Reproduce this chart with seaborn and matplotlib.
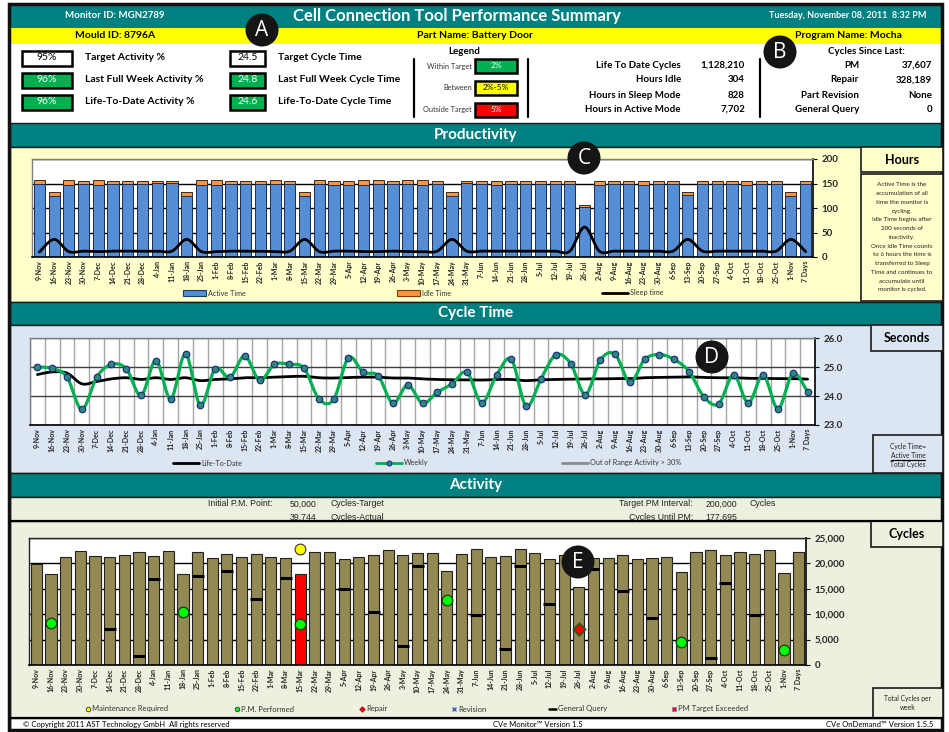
import numpy as np
import matplotlib
matplotlib.use("Agg")
import matplotlib.pyplot as plt
from matplotlib.patches import Rectangle, Circle
import seaborn as sns

# --- data ---
weeks = ["9-Nov", "16-Nov", "23-Nov", "30-Nov", "7-Dec", "14-Dec", "21-Dec", "28-Dec",
         "4-Jan", "11-Jan", "18-Jan", "25-Jan", "1-Feb", "8-Feb", "15-Feb", "22-Feb",
         "1-Mar", "8-Mar", "15-Mar", "22-Mar", "29-Mar", "5-Apr", "12-Apr", "19-Apr",
         "26-Apr", "3-May", "10-May", "17-May", "24-May", "31-May", "7-Jun", "14-Jun",
         "21-Jun", "28-Jun", "5-Jul", "12-Jul", "19-Jul", "26-Jul", "2-Aug", "9-Aug",
         "16-Aug", "23-Aug", "30-Aug", "6-Sep", "13-Sep", "20-Sep", "27-Sep", "4-Oct",
         "11-Oct", "18-Oct", "25-Oct", "1-Nov", "7 Days"]

active_hours = [149, 125, 147, 148, 147, 148, 150, 148, 151, 151, 125, 147, 147, 150,
                150, 150, 149, 148, 125, 149, 147, 146, 147, 149, 150, 148, 147, 148,
                125, 151, 150, 147, 150, 150, 150, 148, 150, 102, 147, 149, 148, 147,
                149, 149, 126, 148, 150, 149, 147, 150, 148, 125, 149]
idle_hours = [8, 7, 10, 8, 10, 8, 6, 8, 5, 5, 7, 10, 10, 6, 6, 6, 8, 8, 7, 8, 9, 10,
              10, 8, 6, 9, 10, 8, 7, 5, 6, 9, 6, 6, 6, 8, 6, 5, 9, 7, 8, 9, 7, 7, 6,
              8, 6, 7, 9, 6, 8, 7, 7]
sleep_hours = [10, 36, 11, 12, 11, 12, 12, 12, 12, 12, 36, 11, 11, 12, 12, 12, 11, 12,
               36, 11, 12, 12, 11, 11, 12, 11, 11, 12, 36, 12, 12, 12, 12, 12, 12, 12,
               12, 61, 12, 12, 12, 12, 12, 12, 36, 12, 12, 12, 12, 12, 12, 36, 11]

weekly_cycle_time = [25.00, 24.95, 24.65, 23.54, 24.65, 25.09, 24.94, 24.02, 25.22, 23.90,
                     25.45, 23.68, 24.94, 24.64, 25.38, 24.54, 25.09, 25.09, 24.96, 23.90,
                     23.88, 25.32, 24.82, 24.70, 23.75, 24.38, 23.75, 24.13, 24.42, 24.82,
                     23.76, 24.72, 25.26, 23.65, 24.59, 25.42, 25.12, 24.05, 25.24, 25.44,
                     24.47, 25.26, 25.43, 25.26, 24.84, 23.97, 23.73, 24.73, 23.76, 24.73,
                     23.56, 24.78, 24.14]
ltd_cycle_time = [24.74, 24.83, 24.79, 24.42, 24.50, 24.59, 24.63, 24.57, 24.63, 24.57,
                  24.63, 24.53, 24.57, 24.59, 24.63, 24.63, 24.65, 24.67, 24.68, 24.63,
                  24.62, 24.64, 24.65, 24.65, 24.62, 24.62, 24.59, 24.57, 24.56, 24.56,
                  24.55, 24.57, 24.57, 24.53, 24.56, 24.57, 24.58, 24.59, 24.59, 24.60,
                  24.60, 24.63, 24.64, 24.65, 24.66, 24.64, 24.63, 24.63, 24.61, 24.61,
                  24.60, 24.60, 24.58]

weekly_cycles = [19900, 17900, 21250, 22500, 21450, 21200, 21650, 22200, 21450, 22500,
                 17850, 22250, 21050, 21850, 21250, 21850, 21250, 21150, 17900, 22200,
                 22200, 20800, 21250, 21650, 22550, 21650, 22100, 22000, 18500, 21850,
                 22800, 21350, 21400, 22800, 22050, 20950, 21600, 15300, 21000, 21050,
                 21650, 20850, 21050, 21350, 18300, 22250, 22650, 21650, 22200, 21800,
                 22550, 18100, 22250]

pm_exceeded_weeks = ["15-Mar"]
maint_weeks = ["15-Mar"]
maint_values = [22800]
pm_weeks = ["16-Nov", "18-Jan", "15-Mar", "24-May", "13-Sep", "1-Nov"]
pm_values = [8300, 10400, 8000, 12700, 4500, 3000]
repair_weeks = ["26-Jul"]
repair_values = [7000]
query_weeks = ["14-Dec", "28-Dec", "4-Jan", "25-Jan", "8-Feb", "22-Feb", "8-Mar", "5-Apr",
               "19-Apr", "3-May", "10-May", "7-Jun", "21-Jun", "28-Jun", "12-Jul", "2-Aug",
               "16-Aug", "30-Aug", "27-Sep", "4-Oct", "18-Oct"]
query_values = [7100, 1750, 16900, 17600, 18500, 12900, 17200, 14950, 10400, 3750, 19550,
                9900, 3150, 19400, 12000, 18950, 14500, 9250, 1400, 16200, 9900]

# --- colours ---
TEAL = "#008080"
YELLOW_PANEL = "#FFFFCC"
BLUE_PANEL = "#DCE6F2"
GREEN_PANEL = "#EBF1DE"
BAR_BLUE = "#558ED5"
BAR_ORANGE = "#F79646"
BAR_OLIVE = "#938953"
OK_GREEN = "#00B050"

W, H = 949, 732

sns.set_style("white")
plt.rcParams["font.family"] = ["Lato", "DejaVu Sans"]

fig = plt.figure(figsize=(W / 100, H / 100), dpi=100)
fig.patch.set_facecolor("white")


def px_axes(x0, y0, x1, y1):
    return fig.add_axes([x0 / W, 1 - y1 / H, (x1 - x0) / W, (y1 - y0) / H])


def smooth(xs, ys, steps=16):
    # Catmull-Rom curve through the points, like Excel's smoothed line
    pts = np.column_stack([xs, ys]).astype(float)
    P = np.vstack([pts[0], pts, pts[-1]])
    t = np.linspace(0, 1, steps, endpoint=False)[:, None]
    segs = []
    for i in range(1, len(P) - 2):
        p0, p1, p2, p3 = P[i - 1], P[i], P[i + 1], P[i + 2]
        segs.append(0.5 * (2 * p1 + (-p0 + p2) * t + (2 * p0 - 5 * p1 + 4 * p2 - p3) * t ** 2
                           + (-p0 + 3 * p1 - 3 * p2 + p3) * t ** 3))
    segs.append(pts[-1][None])
    out = np.vstack(segs)
    return out[:, 0], out[:, 1]


bg = fig.add_axes([0, 0, 1, 1])
bg.set_xlim(0, W)
bg.set_ylim(H, 0)
bg.axis("off")


def box(x0, y0, x1, y1, fc, ec="#1a1a1a", lw=1.0):
    bg.add_patch(Rectangle((x0, y0), x1 - x0, y1 - y0, facecolor=fc, edgecolor=ec, lw=lw))


def txt(x, y, s, size, ha="center", color="black", bold=True, family=None, **kw):
    extra = {"family": family} if family else {}
    bg.text(x, y, s, fontsize=size, ha=ha, va="center", color=color,
            fontweight="bold" if bold else "normal", **extra, **kw)


# --- bands and panels ---
box(10, 4, 942, 28, TEAL, ec="none")
box(10, 28, 942, 44, "#FFFF00", ec="none")
box(10, 44, 942, 123, "white", ec="none")
box(10, 123, 942, 147, TEAL)
box(10, 147, 942, 302, YELLOW_PANEL)
box(10, 302, 942, 325, TEAL)
box(10, 325, 942, 473, BLUE_PANEL)
box(10, 473, 942, 497, TEAL)
box(10, 497, 942, 521, GREEN_PANEL)
box(10, 521, 942, 718, GREEN_PANEL)
box(10, 718, 942, 730, "white")
bg.plot([10, 942], [521, 521], color="black", lw=1.6)
bg.plot([10, 942], [718, 718], color="black", lw=1.6)
bg.add_patch(Rectangle((9.5, 3.5), 933, 726, facecolor="none", edgecolor="#111111", lw=2.5))

# --- header ---
txt(115, 16, "Monitor ID: MGN2789", 7, color="white")
txt(457, 16, "Cell Connection Tool Performance Summary", 12, color="white")
txt(848, 16, "Tuesday, November 08, 2011  8:32 PM", 6.5, color="white")
txt(115, 36, "Mould ID: 8796A", 7.5)
txt(475, 36, "Part Name: Battery Door", 7.5)
txt(848, 36, "Program Name: Mocha", 7.5)

kpi_rows = [58, 80, 102]
for (y, val, fc, label) in zip(kpi_rows, ["95%", "96%", "96%"], ["white", OK_GREEN, OK_GREEN],
                               ["Target Activity %", "Last Full Week Activity %",
                                "Life-To-Date Activity %"]):
    box(22, y - 7.5, 72, y + 7.5, fc, ec="black", lw=1.8)
    txt(47, y, val, 7.5, bold=False, color="black" if fc == "white" else "white")
    txt(85, y, label, 7.5, ha="left")
for (y, val, fc, label) in zip(kpi_rows, ["24.5", "24.8", "24.6"], ["white", OK_GREEN, OK_GREEN],
                               ["Target Cycle Time", "Last Full Week Cycle Time",
                                "Life-To-Date Cycle Time"]):
    box(230, y - 7.5, 265, y + 7.5, fc, ec="black", lw=1.8)
    txt(247.5, y, val, 7.5, bold=False, color="black" if fc == "white" else "white")
    txt(278, y, label, 7.5, ha="left")

txt(464, 52, "Legend", 7)
for xl in (414, 528, 760):
    bg.plot([xl, xl], [59, 117], color="black", lw=1.6)
for (y, name, val, fc, tc) in [(66, "Within Target", "2%", OK_GREEN, "white"),
                               (87.5, "Between", "2%-5%", "#FFFF00", "black"),
                               (109.5, "Outside Target", "5%", "#FF0000", "white")]:
    txt(472, y, name, 5.3, ha="right", bold=False, color="#333333")
    box(475, y - 7, 517, y + 7, fc, ec="black", lw=1.8)
    txt(496, y, val, 6, bold=False, color=tc)

for (y, name, val) in [(65, "Life To Date Cycles", "1,128,210"), (80, "Hours Idle", "304"),
                       (95, "Hours in Sleep Mode", "828"), (109.5, "Hours in Active Mode", "7,702")]:
    txt(681, y, name, 7, ha="right")
    txt(745, y, val, 7, ha="right")

txt(866, 52, "Cycles Since Last:", 7)
for (y, name, val) in [(65, "PM", "37,607"), (80, "Repair", "328,189"),
                       (95, "Part Revision", "None"), (109.5, "General Query", "0")]:
    txt(859, y, name, 7, ha="right")
    txt(932, y, val, 7, ha="right")

# --- section titles and side boxes ---
txt(476, 135.5, "Productivity", 11, color="white")
txt(476, 313.5, "Cycle Time", 11, color="white")
txt(476, 485.5, "Activity", 11, color="white")

box(861, 147, 943, 172, YELLOW_PANEL, lw=1.2)
box(861, 174, 943, 301, YELLOW_PANEL, lw=1.2)
txt(902, 160, "Hours", 9)
hours_note = ["Active Time is the", "accumulation of all", "time the monitor is", "cycling.",
              "Idle Time begins after", "200 seconds of", "inactivity.", "Once Idle Time counts",
              "to 6 hours the time is", "transferred to Sleep", "Time and continues to",
              "accumulate until", "monitor is cycled."]
for i, line in enumerate(hours_note):
    txt(902, 185 + i * 8.75, line, 4.5, bold=False, color="#222222")

box(871, 325, 943, 351, BLUE_PANEL, lw=1.2)
txt(907, 338, "Seconds", 9)
box(873, 435, 943, 473, BLUE_PANEL, lw=1.2)
txt(908, 446, "Cycle Time=", 4.8, bold=False, color="#222222")
txt(908, 455, "Active Time", 4.8, bold=False, color="#222222")
bg.plot([891, 925], [459.5, 459.5], color="black", lw=0.9)
txt(908, 464, "Total Cycles", 4.8, bold=False, color="#222222")

box(871, 521, 943, 547, GREEN_PANEL, lw=1.2)
txt(907, 534, "Cycles", 9)
box(873, 688, 943, 718, GREEN_PANEL, lw=1.2)
txt(908, 698, "Total Cycles per", 4.8, bold=False, color="#222222")
txt(908, 708, "week", 4.8, bold=False, color="#222222")

# activity info band
ARIAL = "Liberation Sans"
INFO = dict(bold=False, family=ARIAL, color="#222222")
txt(273, 504, "Initial P.M. Point:", 6.3, ha="right", **INFO)
txt(316, 504, "50,000", 6.3, ha="right", **INFO)
txt(331, 504, "Cycles-Target", 6.3, ha="left", **INFO)
txt(316, 517, "39,744", 6.3, ha="right", **INFO)
txt(331, 517, "Cycles-Actual", 6.3, ha="left", **INFO)
txt(693, 504, "Target PM Interval:", 6.3, ha="right", **INFO)
txt(737, 504, "200,000", 6.3, ha="right", **INFO)
txt(750, 504, "Cycles", 6.3, ha="left", **INFO)
txt(693, 517, "Cycles Until PM:", 6.3, ha="right", **INFO)
txt(737, 517, "177,695", 6.3, ha="right", **INFO)

# footer
txt(23, 724.5, "\u00a9 Copyright 2011 AST Technology GmbH  All rights reserved", 5.5, ha="left", bold=False)
txt(538, 724.5, "CVe Monitor\u2122 Version 1.5", 5.5, bold=False)
txt(933, 724.5, "CVe OnDemand\u2122 Version 1.5.5", 5.5, ha="right", bold=False)

# --- legends ---
LEG = dict(size=5.2, ha="left", bold=False, color="#333333")
bg.add_patch(Rectangle((183, 290), 23, 6, facecolor=BAR_BLUE, edgecolor="#1F3864", lw=0.8))
txt(208, 293, "Active Time", **LEG)
bg.add_patch(Rectangle((397, 290), 23, 6, facecolor=BAR_ORANGE, edgecolor="#7F3F00", lw=0.8))
txt(422, 293, "Idle Time", **LEG)
bg.plot([602, 628], [293, 293], color="black", lw=2)
txt(630, 293, "Sleep time", **LEG)

bg.plot([173, 199], [463, 463], color="black", lw=2)
txt(201, 463, "Life-To-Date", **LEG)
bg.plot([376, 402], [463, 463], color=OK_GREEN, lw=2)
bg.plot([389], [463], marker="o", ms=3.5, mfc="#2E8B6F", mec="#1F2F8F", mew=0.8)
txt(404, 463, "Weekly", **LEG)
bg.plot([562, 588], [463, 463], color="#8C8C8C", lw=2)
txt(590, 463, "Out of Range Activity > 30%", **LEG)

LEG2 = dict(size=5.5, ha="left", bold=False, color="#333333")
bg.plot([88], [709], marker="o", ms=3.3, mfc="#FFFF00", mec="#333333", mew=0.6)
txt(92, 709, "Maintenance Required", **LEG2)
bg.plot([237], [709], marker="o", ms=3.3, mfc="#00FF00", mec="#333333", mew=0.6)
txt(241, 709, "P.M. Performed", **LEG2)
bg.plot([362], [709], marker="D", ms=2.8, mfc="#FF0000", mec="#7F0000", mew=0.5)
txt(366, 709, "Repair", **LEG2)
bg.plot([454], [709], marker="x", ms=3, mec="#4060C0", mew=1)
txt(458, 709, "Revision", **LEG2)
bg.plot([549, 556], [709, 709], color="black", lw=1.8)
txt(558, 709, "General Query", **LEG2)
bg.plot([674], [709], marker="s", ms=3.2, mfc="#FF0000", mec="#8080C0", mew=0.6)
txt(678, 709, "PM Target Exceeded", **LEG2)

n = len(weeks)
xpos = np.arange(n)


def style_cat_axis(ax):
    ax.set_xlim(-0.5, n - 0.5)
    ax.set_xticks(xpos)
    ax.set_xticklabels(weeks, rotation=90, fontsize=5, fontweight="bold")
    ax.set_xticks(np.arange(-0.5, n, 1), minor=True)
    ax.tick_params(axis="x", which="major", length=0, pad=2.5)
    ax.tick_params(axis="x", which="minor", length=3, width=0.8, direction="out", color="black")
    ax.yaxis.tick_right()
    ax.tick_params(axis="y", which="major", length=3, width=0.8, direction="out",
                   labelsize=7, pad=3, color="black", right=True, left=False)
    for lab in ax.get_yticklabels():
        lab.set_fontweight("bold")
    ax.set_xlabel("")
    ax.set_ylabel("")
    for side in ("bottom", "right"):
        ax.spines[side].set_color("black")
        ax.spines[side].set_linewidth(1.2)
    for side in ("top", "left"):
        ax.spines[side].set_color("#7F7F7F")
        ax.spines[side].set_linewidth(1.0)
    ax.set_axisbelow(True)


# --- productivity chart ---
ax_p = px_axes(32, 159, 813, 257)
ax_p.set_facecolor("white")
total_hours = [a + i for a, i in zip(active_hours, idle_hours)]
sns.barplot(x=weeks, y=total_hours, color=BAR_ORANGE, saturation=1, width=0.76,
            edgecolor="#3a2a1a", linewidth=0.7, errorbar=None, ax=ax_p)
sns.barplot(x=weeks, y=active_hours, color=BAR_BLUE, saturation=1, width=0.76,
            edgecolor="#1F2F4F", linewidth=0.7, errorbar=None, ax=ax_p)
sx, sy = smooth(xpos, sleep_hours)
ax_p.plot(sx, sy, color="black", lw=2, zorder=5)
ax_p.set_ylim(0, 200)
ax_p.set_yticks([0, 50, 100, 150, 200])
ax_p.yaxis.grid(True, color="black", lw=1)
style_cat_axis(ax_p)

# --- cycle time chart ---
ax_c = px_axes(30, 338, 815, 425)
ax_c.set_facecolor("white")
lx, ly = smooth(xpos, ltd_cycle_time)
ax_c.plot(lx, ly, color="black", lw=2, zorder=4)
wx, wy = smooth(xpos, weekly_cycle_time)
ax_c.plot(wx, wy, color=OK_GREEN, lw=2.3, zorder=5)
sns.scatterplot(x=xpos, y=weekly_cycle_time, s=22, color="#2E8B6F", edgecolor="#1F2F8F",
                linewidth=0.9, zorder=6, ax=ax_c)
ax_c.set_ylim(23, 26)
ax_c.set_yticks([23, 24, 25, 26])
ax_c.set_yticklabels(["23.0", "24.0", "25.0", "26.0"])
style_cat_axis(ax_c)
ax_c.yaxis.grid(True, color="#404040", lw=1)
ax_c.xaxis.grid(True, which="minor", color="#A6A6A6", lw=1)

# --- activity chart ---
ax_a = px_axes(29, 538, 806, 665)
ax_a.set_facecolor("white")
bar_colors = {w: ("#FF0000" if w in pm_exceeded_weeks else BAR_OLIVE) for w in weeks}
sns.barplot(x=weeks, y=weekly_cycles, hue=weeks, palette=bar_colors, legend=False,
            saturation=1, width=0.76, edgecolor="#222222", linewidth=0.8, errorbar=None, ax=ax_a)
qx = [weeks.index(w) for w in query_weeks]
ax_a.plot(qx, query_values, ls="none", marker="_", ms=8, mew=2.2, color="black", zorder=5)
sns.scatterplot(x=[weeks.index(w) for w in pm_weeks], y=pm_values, s=58, color="#00FF00",
                edgecolor="#1a3a1a", linewidth=0.9, zorder=6, ax=ax_a)
sns.scatterplot(x=[weeks.index(w) for w in repair_weeks], y=repair_values, s=40, marker="D",
                color="#FF0000", edgecolor="#1a5a1a", linewidth=1.2, zorder=6, ax=ax_a)
sns.scatterplot(x=[weeks.index(w) for w in maint_weeks], y=maint_values, s=60, color="#FFFF00",
                edgecolor="#333333", linewidth=0.8, zorder=6, ax=ax_a, clip_on=False)
ax_a.set_ylim(0, 25000)
ax_a.set_yticks([0, 5000, 10000, 15000, 20000, 25000])
ax_a.set_yticklabels(["0", "5,000", "10,000", "15,000", "20,000", "25,000"])
ax_a.yaxis.grid(True, color="black", lw=1)
style_cat_axis(ax_a)
for side in ("top", "left"):
    ax_a.spines[side].set_color("#222222")

# --- callout circles on top ---
top = fig.add_axes([0, 0, 1, 1])
top.set_xlim(0, W)
top.set_ylim(H, 0)
top.axis("off")
top.patch.set_alpha(0)
for (cx, cy, letter) in [(262, 30, "A"), (780, 52, "B"), (584, 158, "C"),
                         (712, 357, "D"), (578, 562, "E")]:
    top.add_patch(Circle((cx, cy), 16.5, facecolor="#151515", edgecolor="none"))
    top.text(cx, cy + 0.5, letter, color="white", fontsize=15, ha="center", va="center",
             family=["Open Sans", "DejaVu Sans"])

fig.savefig("out.png", dpi=100)
